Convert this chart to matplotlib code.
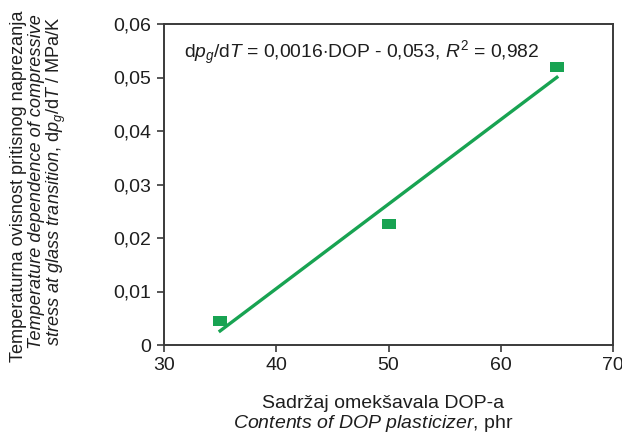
import numpy as np
import matplotlib
matplotlib.use("Agg")
import matplotlib.pyplot as plt

plt.rcParams['font.family'] = ['Liberation Sans', 'DejaVu Sans']
plt.rcParams['mathtext.fontset'] = 'custom'
plt.rcParams['mathtext.rm'] = 'Liberation Sans'
plt.rcParams['mathtext.it'] = 'Liberation Sans:italic'
plt.rcParams['mathtext.bf'] = 'Liberation Sans:bold'

# data
dop = [35, 50, 65]
dpg_dT = [0.0045, 0.0226, 0.0519]
x_ticks = [30, 40, 50, 60, 70]
y_ticks = [0, 0.01, 0.02, 0.03, 0.04, 0.05, 0.06]
y_tick_labels = ["0", "0,01", "0,02", "0,03", "0,04", "0,05", "0,06"]

green = "#18a352"
axcol = "#3a3a3a"
txtcol = "#1e1e1e"

fig = plt.figure(figsize=(6.22, 4.34), dpi=100)
ax = fig.add_axes([164/622, 1-345/434, (613-164)/622, (345-24)/434])

coef = np.polyfit(dop, dpg_dT, 1)
xl = np.array([dop[0], dop[-1]])
ax.plot(xl, np.polyval(coef, xl), color=green, lw=2.4, zorder=2)

rect = [(-1.5, -1), (1.5, -1), (1.5, 1), (-1.5, 1), (-1.5, -1)]
ax.scatter(dop, dpg_dT, marker=rect, s=110, color=green, zorder=3, linewidths=0)

ax.set_xlim(30, 70)
ax.set_ylim(0, 0.06)
ax.set_xticks(x_ticks)
ax.set_xticklabels([str(v) for v in x_ticks])
ax.set_yticks(y_ticks)
ax.set_yticklabels(y_tick_labels)
for s in ax.spines.values():
    s.set_color(axcol)
    s.set_linewidth(1.4)
ax.tick_params(direction='out', length=5, width=1.2, color=axcol,
               labelsize=14, labelcolor=txtcol, pad=4)

ax.text(31.8, 0.0545, r"d$p_g$/d$T$ = 0,0016$\cdot$DOP - 0,053, $R^2$ = 0,982",
        fontsize=13.9, color=txtcol, va='center', ha='left')

fs = 13.1
fig.text(19/622, 1-186/434, "Temperaturna ovisnost pritisnog naprezanja",
         rotation=90, ha='center', va='center', fontsize=fs, color=txtcol)
fig.text(37/622, 1-182/434, "Temperature dependence of compressive",
         rotation=90, ha='center', va='center', fontsize=fs, color=txtcol, style='italic')
fig.text(56/622, 1-181/434,
         r"$\it{stress\ at\ glass\ transition}$, d$p_g$/d$T$ / MPa/K",
         rotation=90, ha='center', va='center', fontsize=fs, color=txtcol)

fs2 = 14
fig.text(383/622, 1-404/434, "Sadržaj omekšavala DOP-a",
         ha='center', va='center', fontsize=fs2, color=txtcol)
fig.text(373/622, 1-423/434, r"$\it{Contents\ of\ DOP\ plasticizer}$, phr",
         ha='center', va='center', fontsize=fs2, color=txtcol)

fig.savefig("out.png", dpi=100)
